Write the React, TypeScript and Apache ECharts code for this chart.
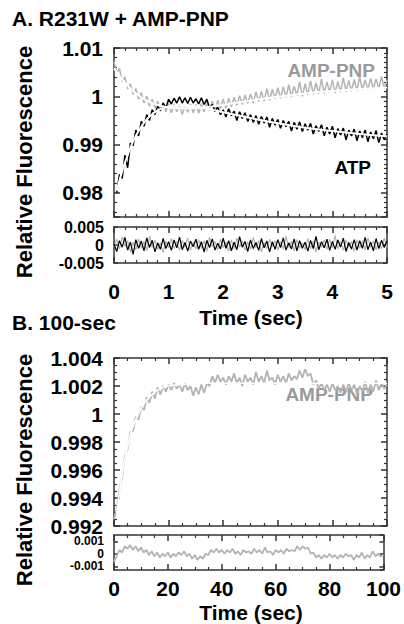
import React, { useEffect, useRef } from "react";
import * as echarts from "echarts";

// ---------- Panel A (0-5 s) ----------
const A_STEP = 0.05; // sampling interval (s)
const ampA = [
  1.0072, 1.0048, 1.0058, 1.003, 1.004, 1.0015, 1.0026, 1.0004, 1.0016, 0.9994,
  1.0008, 0.9986, 1.0, 0.998, 0.9994, 0.9976, 0.999, 0.9972, 0.9987, 0.9968,
  0.9985, 0.9966, 0.9984, 0.9968, 0.9983, 0.9962, 0.9982, 0.9967, 0.9984, 0.9966,
  0.9983, 0.9965, 0.9985, 0.9968, 0.9986, 0.997, 0.999, 0.997, 0.9992, 0.9974,
  0.9994, 0.9975, 0.9996, 0.9978, 0.9998, 0.9981, 1.0001, 0.9983, 1.0003, 0.9985,
  1.0005, 0.9986, 1.0009, 0.9989, 1.001, 0.999, 1.0016, 0.9992, 1.0014, 0.9995,
  1.0018, 0.9996, 1.002, 0.9998, 1.0024, 0.9999, 1.0021, 1.0001, 1.003, 1.0,
  1.0026, 1.0003, 1.0032, 1.0004, 1.0028, 1.0005, 1.0036, 1.0006, 1.003, 1.0008,
  1.0034, 1.0007, 1.0031, 1.0009, 1.0038, 1.001, 1.0033, 1.0011, 1.0035, 1.0012,
  1.004, 1.0013, 1.0034, 1.0014, 1.0037, 1.0015, 1.0036, 1.0016, 1.0041, 1.0016,
  1.0034,
];
// ATP trace starts at 0.05 s
const atpA = [
  0.98, 0.9838, 0.983, 0.9878, 0.9852, 0.9903, 0.9898, 0.993, 0.9918, 0.9948,
  0.9938, 0.9962, 0.995, 0.9972, 0.9962, 0.998, 0.997, 0.9986, 0.9976, 0.9994,
  0.9984, 0.9996, 0.9986, 0.9999, 0.9986, 0.9997, 0.9985, 0.9998, 0.9986, 0.9995,
  0.9984, 0.9997, 0.9983, 0.9994, 0.9976, 0.9983, 0.9968, 0.9978, 0.9962, 0.9972,
  0.9957, 0.9974, 0.996, 0.9969, 0.995, 0.9968, 0.9954, 0.9966, 0.9948, 0.9962,
  0.9946, 0.996, 0.9942, 0.9958, 0.9945, 0.9957, 0.9936, 0.9954, 0.994, 0.9952,
  0.9934, 0.995, 0.9937, 0.9948, 0.9928, 0.9946, 0.9932, 0.9947, 0.9927, 0.9943,
  0.993, 0.9944, 0.9922, 0.9939, 0.9927, 0.9941, 0.9918, 0.9936, 0.9922, 0.9938,
  0.9914, 0.9933, 0.992, 0.9934, 0.991, 0.993, 0.9918, 0.9932, 0.9908, 0.9928,
  0.9914, 0.993, 0.9906, 0.9926, 0.9912, 0.9929, 0.9904, 0.9924, 0.991, 0.9922,
];
const ampFitA_t = [0, 0.1, 0.2, 0.3, 0.4, 0.5, 0.6, 0.7, 0.8, 0.9, 1.0, 1.2, 1.4, 1.6, 1.8, 2.0, 2.5, 3.0, 3.5, 4.0, 4.5, 5.0];
const ampFitA_v = [1.0058, 1.0042, 1.0028, 1.0016, 1.0006, 0.9998, 0.9991, 0.9986, 0.9982, 0.9979, 0.9977, 0.9975, 0.9975, 0.9976, 0.9979, 0.9982, 0.9991, 0.9999, 1.0006, 1.0011, 1.0015, 1.0018];
const atpFitA_t = [0.05, 0.1, 0.15, 0.2, 0.3, 0.4, 0.5, 0.6, 0.7, 0.8, 0.9, 1.0, 1.2, 1.4, 1.6, 1.8, 2.0, 2.5, 3.0, 3.5, 4.0, 4.5, 5.0];
const atpFitA_v = [0.9805, 0.9825, 0.9845, 0.9862, 0.9893, 0.9918, 0.9937, 0.9952, 0.9963, 0.9971, 0.9976, 0.9979, 0.9981, 0.998, 0.9977, 0.9972, 0.9967, 0.9955, 0.9944, 0.9935, 0.9928, 0.9922, 0.9917];
const residAtpA = [
  0.0003, -0.0018, 0.0012, -0.0006, 0.0021, -0.0014, 0.0008, -0.0026, 0.0015, -0.0009,
  0.0011, -0.0016, 0.002, -0.0007, 0.0013, -0.0019, 0.0006, -0.0012, 0.0018, -0.001,
  0.0009, -0.0015, 0.0014, -0.0008, 0.0022, -0.0013, 0.0007, -0.0017, 0.0011, -0.0005,
  0.0016, -0.0012, 0.0009, -0.002, 0.0013, -0.0007, 0.0017, -0.0014, 0.0005, -0.0011,
  0.0019, -0.0009, 0.0012, -0.0016, 0.0008, -0.0013, 0.0023, -0.0006, 0.001, -0.0018,
  0.0014, -0.001, 0.0007, -0.0015, 0.0018, -0.0008, 0.0011, -0.0019, 0.0009, -0.0012,
  0.0015, -0.0007, 0.002, -0.0014, 0.0006, -0.0011, 0.0017, -0.0016, 0.0012, -0.0009,
  0.0008, -0.0017, 0.0013, -0.001, 0.0024, -0.0013, 0.0009, -0.0008, 0.0016, -0.0015,
  0.001, -0.0012, 0.0014, -0.0006, 0.0019, -0.0018, 0.0007, -0.0011, 0.0015, -0.0014,
  0.0012, -0.0009, 0.0021, -0.0013, 0.0008, -0.0016, 0.0018, -0.001, 0.0013, -0.0007,
  0.0011,
];
const residAmpA = [
  -0.0005, 0.0016, -0.0011, 0.0023, -0.0004, 0.0012, -0.0019, 0.0008, -0.0013, 0.0017,
  -0.0009, 0.001, -0.0016, 0.0025, -0.0007, 0.0014, -0.0012, 0.0006, -0.0021, 0.0011,
  -0.0008, 0.0018, -0.001, 0.0009, -0.0015, 0.0013, -0.0006, 0.002, -0.0014, 0.0007,
  -0.0011, 0.0015, -0.0009, 0.0012, -0.0018, 0.0022, -0.0005, 0.001, -0.0013, 0.0016,
  -0.0007, 0.0008, -0.0017, 0.0014, -0.001, 0.0019, -0.0006, 0.0011, -0.0015, 0.0009,
  -0.0012, 0.0021, -0.0008, 0.0013, -0.0019, 0.0007, -0.001, 0.0016, -0.0005, 0.0012,
  -0.0014, 0.0009, -0.0011, 0.0024, -0.0007, 0.001, -0.0016, 0.0015, -0.0009, 0.0006,
  -0.0013, 0.0018, -0.001, 0.0011, -0.002, 0.0008, -0.0006, 0.0014, -0.0012, 0.0017,
  -0.0008, 0.0026, -0.0011, 0.0009, -0.0015, 0.0013, -0.0007, 0.001, -0.0018, 0.0015,
  -0.0009, 0.0012, -0.0014, 0.002, -0.0006, 0.0011, -0.0013, 0.0008, -0.001, 0.0019,
  -0.0007,
];

// ---------- Panel B (0-100 s) ----------
const B_STEP = 1; // sampling interval (s)
const ampB = [
  0.9925, 0.9932, 0.9946, 0.9955, 0.997, 0.9975, 0.9987, 0.9988, 0.9998, 0.9996,
  1.0005, 1.0003, 1.0012, 1.0008, 1.0016, 1.0011, 1.0019, 1.0014, 1.002, 1.0016,
  1.0021, 1.0017, 1.0022, 1.0018, 1.0021, 1.0016, 1.0022, 1.0017, 1.002, 1.0013,
  1.0019, 1.0014, 1.0021, 1.0015, 1.0022, 1.002, 1.0027, 1.0022, 1.0028, 1.0023,
  1.0026, 1.0021, 1.0027, 1.0023, 1.0029, 1.0022, 1.0026, 1.002, 1.0028, 1.0023,
  1.0026, 1.0021, 1.003, 1.0023, 1.0027, 1.0022, 1.0031, 1.0024, 1.0026, 1.0021,
  1.0028, 1.0023, 1.0027, 1.0022, 1.0029, 1.0024, 1.0027, 1.0025, 1.0031, 1.0026,
  1.0032, 1.0027, 1.0029, 1.0021, 1.0024, 1.0018, 1.0022, 1.0017, 1.0021, 1.0016,
  1.0022, 1.0017, 1.002, 1.0015, 1.0021, 1.0016, 1.0022, 1.0017, 1.0021, 1.0014,
  1.002, 1.0016, 1.0023, 1.0015, 1.0021, 1.0016, 1.0024, 1.0017, 1.0022, 1.0018,
  1.0021,
];
const ampFitB_t = [1, 2, 3, 4, 5, 6, 7, 8, 9, 10, 12, 14, 16, 18, 20, 25, 30, 40, 50, 60, 70, 80, 90, 100];
const ampFitB_v = [0.9929, 0.9944, 0.9957, 0.9968, 0.9977, 0.9985, 0.9991, 0.9996, 1.0, 1.0004, 1.001, 1.0014, 1.0017, 1.0019, 1.002, 1.0021, 1.0022, 1.0022, 1.0022, 1.0022, 1.0022, 1.0022, 1.0022, 1.0022];
const residB = [
  -0.0006, -0.0002, 0.0003, 0.0001, 0.0006, 0.0004, 0.0007, 0.0003, 0.0006, 0.0002,
  0.0005, 0.0001, 0.0003, -0.0001, 0.0002, -0.0002, 0.0001, -0.0003, 0.0, -0.0002,
  0.0001, -0.0003, 0.0, -0.0002, 0.0001, -0.0001, 0.0002, -0.0002, 0.0, -0.0004,
  -0.0001, -0.0005, -0.0002, -0.0004, 0.0, -0.0001, 0.0003, 0.0001, 0.0004, 0.0001,
  0.0003, 0.0, 0.0003, 0.0001, 0.0004, 0.0, 0.0002, -0.0001, 0.0003, 0.0001,
  0.0002, 0.0, 0.0004, 0.0001, 0.0003, 0.0, 0.0005, 0.0001, 0.0002, -0.0001,
  0.0003, 0.0001, 0.0003, 0.0, 0.0004, 0.0002, 0.0003, 0.0002, 0.0006, 0.0003,
  0.0006, 0.0004, 0.0005, 0.0, 0.0001, -0.0003, -0.0001, -0.0004, -0.0001, -0.0003,
  0.0, -0.0003, -0.0001, -0.0004, -0.0001, -0.0003, 0.0, -0.0002, -0.0001, -0.0005,
  -0.0001, -0.0003, 0.0001, -0.0004, -0.0001, -0.0003, 0.0002, -0.0002, 0.0, -0.0002,
  -0.0001,
];

const xTicksA = { min: 0, max: 5, interval: 1 };
const xTicksB = { min: 0, max: 100, interval: 20 };

const FONT = "'Liberation Sans', Arial, Helvetica, sans-serif";
const FRAME = "#333";
const GREY = "#b4b4b4";

function pairs(t: number[], v: number[]) {
  return v.map((y, i) => [t[i], y]);
}
function sampled(v: number[], step: number, start = 0) {
  return v.map((y, i) => [+(start + i * step).toFixed(4), y]);
}

const tickStyle = (length: number) => ({
  show: true, inside: true, length, lineStyle: { color: FRAME, width: 1.5 },
});
const minorStyle = (splitNumber: number) => ({
  show: true, splitNumber, length: 3, lineStyle: { color: FRAME, width: 1.2 },
});
const noMinor = { show: false };
const labelStyle = (size: number, margin: number, extra: any = {}) => ({
  show: true, fontFamily: FONT, fontWeight: "bold", fontSize: size, color: "#000", margin, ...extra,
});

function axis(o: any) {
  return {
    type: "value",
    axisLine: { show: true, onZero: false, lineStyle: { color: FRAME, width: 1.5 } },
    splitLine: { show: false },
    axisLabel: { show: false },
    ...o,
  };
}

const line = (name: string, data: any[], color: string, width: number, smooth = false) => ({
  name, type: "line", data, showSymbol: false, smooth,
  lineStyle: { color, width }, itemStyle: { color }, silent: true,
});

const txt = (text: string, x: number, y: number, size: number, align: string, color = "#000", rotation = 0) => ({
  type: "text", x, y, rotation, silent: true,
  style: { text, fill: color, font: `bold ${size}px ${FONT}`, textAlign: align, textVerticalAlign: "middle" },
});

function panel(grid: any, xt: any, xSplit: number, xLabel: any, yLeft: any, yRight: any, series: any[], graphic: any[] = []) {
  return {
    animation: false,
    grid,
    xAxis: [
      axis({ position: "bottom", ...xt, axisTick: tickStyle(6), minorTick: minorStyle(xSplit), axisLabel: xLabel }),
      axis({ position: "top", ...xt, axisTick: tickStyle(6), minorTick: minorStyle(xSplit) }),
    ],
    yAxis: [axis({ position: "left", ...yLeft }), axis({ position: "right", ...yRight })],
    series,
    graphic,
  };
}

function buildOptions() {
  const yA = { min: 0.975, max: 1.01, splitNumber: 4, axisTick: tickStyle(6) };
  const yAr = { min: -0.005, max: 0.005, interval: 0.005, axisTick: tickStyle(4), minorTick: noMinor };
  const yB = { min: 0.992, max: 1.004, interval: 0.002, axisTick: tickStyle(6), minorTick: minorStyle(4) };
  const yBr = { min: -0.0013, max: 0.0015, splitNumber: 2, axisTick: tickStyle(4), minorTick: noMinor };
  return [
    panel({ left: 114, top: 48, width: 273, height: 169 }, xTicksA, 5, { show: false },
      { ...yA, minorTick: minorStyle(5), axisLabel: labelStyle(21, 11, { showMinLabel: false }) },
      { ...yA, minorTick: minorStyle(10) },
      [
        line("AMP-PNP", sampled(ampA, A_STEP), GREY, 1.5),
        line("ATP", sampled(atpA, A_STEP, A_STEP), "#000", 1.5),
        line("AMP-PNP fit", pairs(ampFitA_t, ampFitA_v), "#fff", 2, true),
        line("ATP fit", pairs(atpFitA_t, atpFitA_v), "#fff", 2, true),
      ],
      [
        txt("A. R231W + AMP-PNP", 12, 18, 21, "left"),
        txt("B. 100-sec", 12, 322, 21, "left"),
        txt("Relative Fluorescence", 24, 162, 22, "center", "#000", Math.PI / 2),
        txt("Relative Fluorescence", 24, 470, 22, "center", "#000", Math.PI / 2),
        txt("Time (sec)", 251, 317, 21, "center"),
        txt("Time (sec)", 251, 612, 21, "center"),
        txt("AMP-PNP", 375, 70, 19, "right", "#9a9a9a"),
        txt("ATP", 371, 167, 19, "right"),
        txt("AMP-PNP", 373, 394, 19, "right", "#9a9a9a"),
      ]),
    panel({ left: 114, top: 227, width: 273, height: 36 }, xTicksA, 5, labelStyle(21, 18),
      { ...yAr, axisLabel: labelStyle(16, 10) }, yAr,
      [
        line("AMP-PNP resid", sampled(residAmpA, A_STEP), GREY, 1.2),
        line("ATP resid", sampled(residAtpA, A_STEP), "#000", 1.2),
      ]),
    panel({ left: 114, top: 358, width: 273, height: 168 }, xTicksB, 4, { show: false },
      { ...yB, axisLabel: labelStyle(21, 11, { lineHeight: 16 }) }, yB,
      [
        line("AMP-PNP 100s", sampled(ampB, B_STEP), GREY, 1.8),
        line("AMP-PNP 100s fit", pairs(ampFitB_t, ampFitB_v), "#fff", 1.6, true),
      ]),
    panel({ left: 114, top: 535, width: 273, height: 35 }, xTicksB, 4, labelStyle(21, 8),
      { ...yBr, axisLabel: labelStyle(12, 10, { lineHeight: 11, showMinLabel: false, showMaxLabel: false, hideOverlap: false }) },
      yBr,
      [line("AMP-PNP 100s resid", sampled(residB, B_STEP), GREY, 1.8)]),
  ];
}

function Layer({ option, bg }: { option: any; bg: string }) {
  const ref = useRef<HTMLDivElement>(null);
  useEffect(() => {
    if (!ref.current) return;
    const chart = echarts.init(ref.current, undefined, { renderer: "svg" });
    chart.setOption(option);
    return () => chart.dispose();
  }, []);
  return <div ref={ref} style={{ position: "fixed", left: 0, top: 0, width: 404, height: 624, background: bg, pointerEvents: "none" }} />;
}

export default function App() {
  const options = buildOptions();
  return (
    <>
      {options.map((o, i) => <Layer key={i} option={o} bg={i === 0 ? "#fff" : "transparent"} />)}
    </>
  );
}
